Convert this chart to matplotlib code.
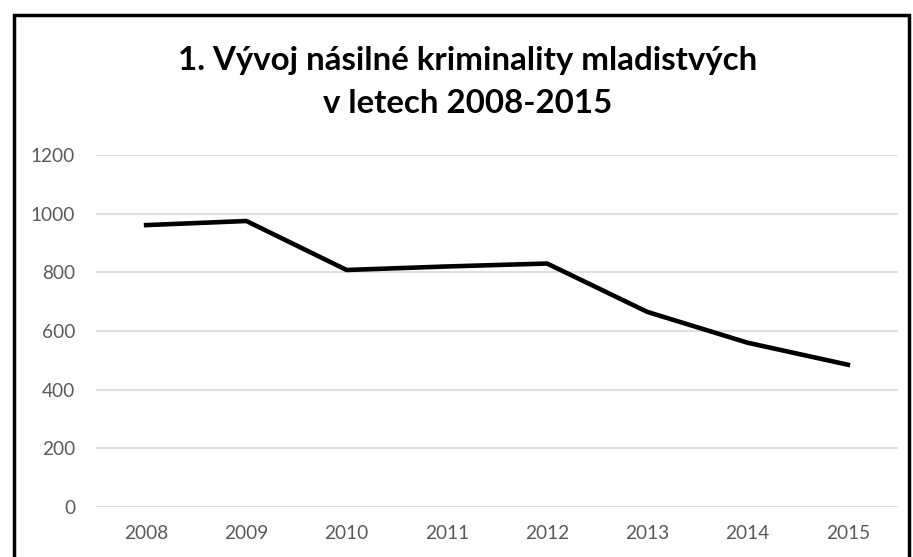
import matplotlib
matplotlib.use("Agg")
import matplotlib.pyplot as plt
from matplotlib.patches import Rectangle

years = ["2008", "2009", "2010", "2011", "2012", "2013", "2014", "2015"]
values = [961, 975, 808, 820, 830, 665, 560, 485]
yticks = [0, 200, 400, 600, 800, 1000, 1200]
title_lines = ["1. Vývoj násilné kriminality mladistvých", "v letech 2008-2015"]

W, H = 913, 557
plt.rcParams['font.family'] = ['Lato', 'DejaVu Sans']
fig = plt.figure(figsize=(W / 100, H / 100), dpi=100)
renderer = fig.canvas.get_renderer()


def fit_size(s, target_px, weight="normal"):
    t = fig.text(0, 0, s, fontsize=10, fontweight=weight)
    w = t.get_window_extent(renderer).width
    t.remove()
    return 10 * target_px / w


tick_fs = fit_size("2008", 44)
title_fs = fit_size(title_lines[0], 581, "bold")

ax = fig.add_axes([96 / W, 1 - 507 / H, (898 - 96) / W, (507 - 155) / H])
x = list(range(len(years)))
ax.plot(x, values, color="black", linewidth=3.3, solid_joinstyle="round", zorder=3)
ax.set_xlim(-0.5, len(years) - 0.5)
ax.set_ylim(0, 1200)
ax.set_yticks(yticks)
ax.set_yticklabels([str(v) for v in yticks])
ax.set_xticks(x)
ax.set_xticklabels(years)
for s in ax.spines.values():
    s.set_visible(False)
ax.grid(axis="y", color="#d9d9d9", linewidth=1.2)
ax.set_axisbelow(True)
ax.tick_params(axis="both", length=0, colors="#595959", labelsize=tick_fs)
ax.tick_params(axis="y", pad=15)
ax.tick_params(axis="x", pad=13)

cx = 467.5 / W
fig.text(cx, 1 - 70 / H, title_lines[0], ha="center", va="baseline",
         fontsize=title_fs, fontweight="bold")
fig.text(cx, 1 - 113 / H, title_lines[1], ha="center", va="baseline",
         fontsize=title_fs, fontweight="bold")

border = Rectangle((13.5 / W, -0.05), (909 - 13.5) / W, 1 - 15 / H + 0.05,
                   transform=fig.transFigure, fill=False, edgecolor="black",
                   linewidth=2.5, clip_on=False)
fig.patches.append(border)

fig.savefig("out.png", dpi=100)
